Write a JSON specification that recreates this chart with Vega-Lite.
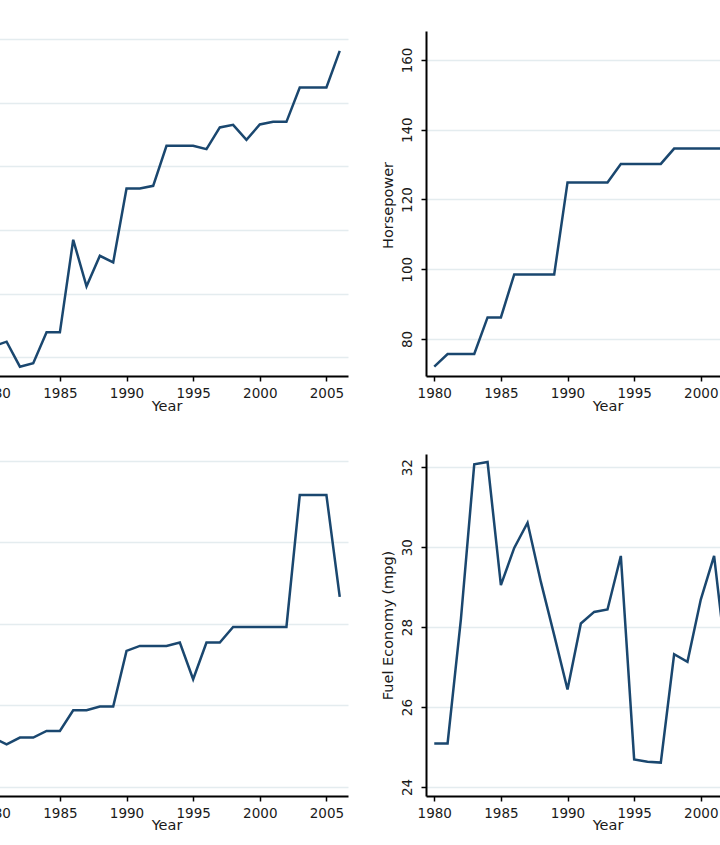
{
  "$schema": "https://vega.github.io/schema/vega-lite/v6.json",
  "background": "white",
  "padding": {"left": -24, "top": 31, "right": 0, "bottom": 0},
  "data": {
    "values": [
      {"year": 1980, "upperLeft": 11.73, "hp": 72.1, "lowerLeft": 16.0, "mpg": 25.09},
      {"year": 1981, "upperLeft": 12.45, "hp": 75.7, "lowerLeft": 15.24, "mpg": 25.09},
      {"year": 1982, "upperLeft": 8.52, "hp": 75.7, "lowerLeft": 16.06, "mpg": 28.2},
      {"year": 1983, "upperLeft": 9.06, "hp": 75.7, "lowerLeft": 16.06, "mpg": 32.07},
      {"year": 1984, "upperLeft": 13.92, "hp": 86.2, "lowerLeft": 16.87, "mpg": 32.13},
      {"year": 1985, "upperLeft": 13.92, "hp": 86.2, "lowerLeft": 16.87, "mpg": 29.05},
      {"year": 1986, "upperLeft": 28.46, "hp": 98.5, "lowerLeft": 19.41, "mpg": 29.98},
      {"year": 1987, "upperLeft": 21.15, "hp": 98.5, "lowerLeft": 19.41, "mpg": 30.61},
      {"year": 1988, "upperLeft": 25.95, "hp": 98.5, "lowerLeft": 19.86, "mpg": 29.13},
      {"year": 1989, "upperLeft": 24.91, "hp": 98.5, "lowerLeft": 19.86, "mpg": 27.8},
      {"year": 1990, "upperLeft": 36.53, "hp": 124.9, "lowerLeft": 26.69, "mpg": 26.44},
      {"year": 1991, "upperLeft": 36.53, "hp": 124.9, "lowerLeft": 27.3, "mpg": 28.09},
      {"year": 1992, "upperLeft": 36.94, "hp": 124.9, "lowerLeft": 27.3, "mpg": 28.38},
      {"year": 1993, "upperLeft": 43.22, "hp": 124.9, "lowerLeft": 27.3, "mpg": 28.44},
      {"year": 1994, "upperLeft": 43.22, "hp": 130.2, "lowerLeft": 27.72, "mpg": 29.78},
      {"year": 1995, "upperLeft": 43.22, "hp": 130.2, "lowerLeft": 23.21, "mpg": 24.69},
      {"year": 1996, "upperLeft": 42.7, "hp": 130.2, "lowerLeft": 27.72, "mpg": 24.63},
      {"year": 1997, "upperLeft": 46.11, "hp": 130.2, "lowerLeft": 27.72, "mpg": 24.61},
      {"year": 1998, "upperLeft": 46.52, "hp": 134.6, "lowerLeft": 29.63, "mpg": 27.32},
      {"year": 1999, "upperLeft": 44.16, "hp": 134.6, "lowerLeft": 29.63, "mpg": 27.13},
      {"year": 2000, "upperLeft": 46.58, "hp": 134.6, "lowerLeft": 29.63, "mpg": 28.69},
      {"year": 2001, "upperLeft": 46.99, "hp": 134.6, "lowerLeft": 29.63, "mpg": 29.78},
      {"year": 2002, "upperLeft": 46.99, "hp": 134.6, "lowerLeft": 29.63, "mpg": 26.9},
      {"year": 2003, "upperLeft": 52.39, "hp": 160, "lowerLeft": 45.79, "mpg": 26.0},
      {"year": 2004, "upperLeft": 52.39, "hp": 160, "lowerLeft": 45.79, "mpg": 26.5},
      {"year": 2005, "upperLeft": 52.39, "hp": 160, "lowerLeft": 45.79, "mpg": 27.0},
      {"year": 2006, "upperLeft": 58.13, "hp": 166, "lowerLeft": 33.31, "mpg": 26.2}
    ]
  },
  "columns": 2,
  "spacing": 78,
  "bounds": "flush",
  "align": "all",
  "concat": [
    {
      "width": 363, "height": 345,
      "mark": {"type": "line", "clip": true},
      "encoding": {
        "x": {"field": "year", "type": "quantitative",
          "scale": {"domain": [1979.38, 2006.62], "nice": false, "zero": false},
          "axis": {"values": [1980, 1985, 1990, 1995, 2000, 2005], "format": "d", "title": "Year", "grid": false, "labelFlush": false, "labelAngle": 0, "labelPadding": 5, "titleY": 23, "titleBaseline": "top"}},
        "y": {"field": "upperLeft", "type": "quantitative",
          "scale": {"domain": [7.06, 61.26], "nice": false, "zero": false},
          "axis": {"values": [10, 20, 30, 40, 50, 60], "labels": false, "ticks": false, "domain": false, "title": null, "grid": true}}
      }
    },
    {
      "width": 363, "height": 345,
      "mark": {"type": "line", "clip": true},
      "encoding": {
        "x": {"field": "year", "type": "quantitative",
          "scale": {"domain": [1979.38, 2006.62], "nice": false, "zero": false},
          "axis": {"values": [1980, 1985, 1990, 1995, 2000, 2005], "format": "d", "title": "Year", "grid": false, "labelFlush": false, "labelAngle": 0, "labelPadding": 5, "titleY": 23, "titleBaseline": "top"}},
        "y": {"field": "hp", "type": "quantitative",
          "scale": {"domain": [69.4, 168.3], "nice": false, "zero": false},
          "axis": {"values": [80, 100, 120, 140, 160], "title": "Horsepower", "grid": true, "labelAngle": -90, "labelAlign": "center", "labelBaseline": "alphabetic", "labelPadding": 9.5, "titleX": -34, "titleY": 174, "titleBaseline": "alphabetic", "titleAlign": "center", "titleAngle": -90}}
      }
    },
    {
      "width": 363, "height": 342,
      "mark": {"type": "line", "clip": true},
      "encoding": {
        "x": {"field": "year", "type": "quantitative",
          "scale": {"domain": [1979.38, 2006.62], "nice": false, "zero": false},
          "axis": {"values": [1980, 1985, 1990, 1995, 2000, 2005], "format": "d", "title": "Year", "grid": false, "labelFlush": false, "labelAngle": 0, "labelPadding": 5, "titleY": 22, "titleBaseline": "top"}},
        "y": {"field": "lowerLeft", "type": "quantitative",
          "scale": {"domain": [8.9, 50.82], "nice": false, "zero": false},
          "axis": {"values": [10, 20, 30, 40, 50], "labels": false, "ticks": false, "domain": false, "title": null, "grid": true}}
      }
    },
    {
      "width": 363, "height": 342,
      "mark": {"type": "line", "clip": true},
      "encoding": {
        "x": {"field": "year", "type": "quantitative",
          "scale": {"domain": [1979.38, 2006.62], "nice": false, "zero": false},
          "axis": {"values": [1980, 1985, 1990, 1995, 2000, 2005], "format": "d", "title": "Year", "grid": false, "labelFlush": false, "labelAngle": 0, "labelPadding": 5, "titleY": 22, "titleBaseline": "top"}},
        "y": {"field": "mpg", "type": "quantitative",
          "scale": {"domain": [23.775, 32.33], "nice": false, "zero": false},
          "axis": {"values": [24, 26, 28, 30, 32], "title": "Fuel Economy  (mpg)", "grid": true, "labelAngle": -90, "labelAlign": "center", "labelBaseline": "alphabetic", "labelPadding": 9.5, "titleX": -34, "titleY": 171, "titleBaseline": "alphabetic", "titleAlign": "center", "titleAngle": -90}}
      }
    }
  ],
  "config": {
    "font": "DejaVu Sans",
    "view": {"stroke": null},
    "axis": {
      "labelFont": "DejaVu Sans", "labelFontSize": 13.5, "labelColor": "#1a1a1a",
      "titleFont": "DejaVu Sans", "titleFontSize": 14.5, "titleFontWeight": "normal", "titleColor": "#1a1a1a",
      "domainColor": "#000000", "domainWidth": 2,
      "tickColor": "#000000", "tickWidth": 1.5, "tickSize": 5,
      "gridColor": "#e4ecef", "gridWidth": 1.5
    },
    "line": {"color": "#1a476f", "strokeWidth": 2.5}
  }
}
